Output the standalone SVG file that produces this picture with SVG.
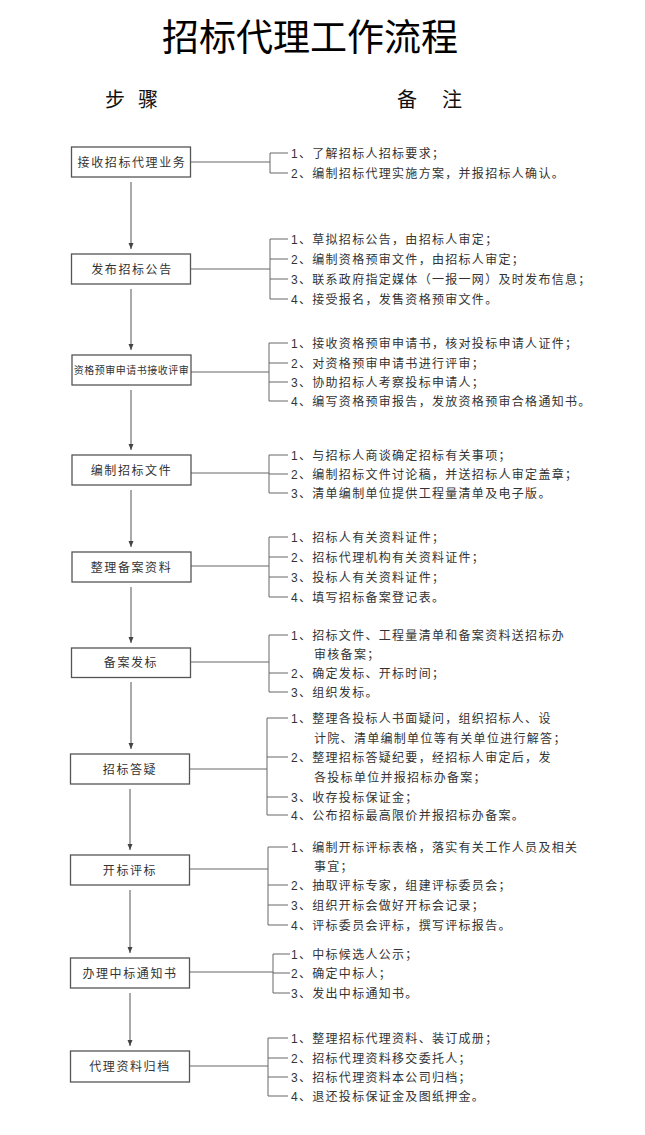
<svg xmlns="http://www.w3.org/2000/svg" width="645" height="1135" viewBox="0 0 645 1135">
<defs>
<style>
.box{fill:#fff;stroke:#555;stroke-width:1.3}
.lbl{font-family:"Liberation Sans","Noto Sans CJK SC",sans-serif;font-size:12px;letter-spacing:1.6px;fill:#333;text-anchor:middle}
.note{font-family:"Liberation Sans","Noto Sans CJK SC",sans-serif;font-size:12px;letter-spacing:1.3px;fill:#333}
.ln{stroke:#666;stroke-width:1;fill:none}
.arr{stroke:#555;stroke-width:1;fill:none;marker-end:url(#ah)}
.hd{font-family:"Noto Sans CJK SC",sans-serif;font-size:20px;fill:#111}
</style>
<marker id="ah" viewBox="0 0 6 6" refX="6" refY="3" markerWidth="6" markerHeight="6" markerUnits="userSpaceOnUse" orient="auto">
<path d="M0,0.5 L6,3 L0,5.5 z" fill="#444"/>
</marker>
</defs>
<rect width="645" height="1135" fill="#fff"/>
<g id="title">
<text x="310" y="51" font-family="Noto Sans CJK SC,sans-serif" font-size="37" text-anchor="middle" fill="#000">招标代理工作流程</text>
<text class="hd" x="105 138" y="107">步骤</text>
<text class="hd" x="397 442" y="107">备注</text>
</g>
<g id="connectors">
<line class="arr" x1="131" y1="182" x2="131" y2="249"/>
<line class="arr" x1="131" y1="289" x2="131" y2="350"/>
<line class="arr" x1="131" y1="390" x2="131" y2="450"/>
<line class="arr" x1="131" y1="490" x2="131" y2="547"/>
<line class="arr" x1="131" y1="587" x2="131" y2="643"/>
<line class="arr" x1="131" y1="682" x2="131" y2="749"/>
<line class="arr" x1="130" y1="789" x2="130" y2="850"/>
<line class="arr" x1="130" y1="890" x2="130" y2="953"/>
<line class="arr" x1="130" y1="993" x2="130" y2="1046"/>
<path class="ln" d="M190.5,162 H270 M270,153 V173 M270,153 H288 M270,173 H288"/>
<path class="ln" d="M190.5,269 H270 M270,239 V299 M270,239 H288 M270,259 H288 M270,279 H288 M270,299 H288"/>
<path class="ln" d="M190.5,372 H269 M269,343 V401 M269,343 H288 M269,363 H288 M269,382 H288 M269,401 H288"/>
<path class="ln" d="M190.5,473 H269 M269,455 V493 M269,455 H288 M269,474 H288 M269,493 H288"/>
<path class="ln" d="M190.5,566 H269 M269,537 V597 M269,537 H288 M269,557 H288 M269,577 H288 M269,597 H288"/>
<path class="ln" d="M190.5,662 H269 M269,635 V692 M269,635 H288 M269,673 H288 M269,692 H288"/>
<path class="ln" d="M190,769 H267 M267,718 V815 M267,718 H288 M267,757 H288 M267,797 H288 M267,815 H288"/>
<path class="ln" d="M190,869 H268 M268,847 V925 M268,847 H288 M268,885 H288 M268,905 H288 M268,925 H288"/>
<path class="ln" d="M190,972 H273 M273,954 V993 M273,954 H290 M273,973 H290 M273,993 H290"/>
<path class="ln" d="M190,1066 H268 M268,1038 V1096 M268,1038 H288 M268,1058 H288 M268,1077 H288 M268,1096 H288"/>
</g>
<g id="n1">
<rect class="box" x="71.5" y="147" width="119" height="30"/>
<text class="lbl" x="132" y="166.5">接收招标代理业务</text>
<text class="note" x="291" y="157.5">1、了解招标人招标要求；</text>
<text class="note" x="291" y="177.5">2、编制招标代理实施方案，并报招标人确认。</text>
</g>
<g id="n2">
<rect class="box" x="71.5" y="254" width="119" height="30"/>
<text class="lbl" x="132" y="273.5">发布招标公告</text>
<text class="note" x="291" y="243.5">1、草拟招标公告，由招标人审定；</text>
<text class="note" x="291" y="263.5">2、编制资格预审文件，由招标人审定；</text>
<text class="note" x="291" y="283.5">3、联系政府指定媒体（一报一网）及时发布信息；</text>
<text class="note" x="291" y="303.5">4、接受报名，发售资格预审文件。</text>
</g>
<g id="n3">
<rect class="box" x="72" y="355" width="119" height="30"/>
<text class="lbl" x="131.5" y="373.8" style="font-size:10px;letter-spacing:0.5px">资格预审申请书接收评审</text>
<text class="note" x="291" y="347.5">1、接收资格预审申请书，核对投标申请人证件；</text>
<text class="note" x="291" y="367.5">2、对资格预审申请书进行评审；</text>
<text class="note" x="291" y="386.5">3、协助招标人考察投标申请人；</text>
<text class="note" x="291" y="405.5">4、编写资格预审报告，发放资格预审合格通知书。</text>
</g>
<g id="n4">
<rect class="box" x="72" y="455" width="119" height="30"/>
<text class="lbl" x="131.5" y="474.5">编制招标文件</text>
<text class="note" x="291" y="459.5">1、与招标人商谈确定招标有关事项；</text>
<text class="note" x="291" y="478.5">2、编制招标文件讨论稿，并送招标人审定盖章；</text>
<text class="note" x="291" y="497.5">3、清单编制单位提供工程量清单及电子版。</text>
</g>
<g id="n5">
<rect class="box" x="72" y="552" width="119" height="30"/>
<text class="lbl" x="131.5" y="571.5">整理备案资料</text>
<text class="note" x="291" y="541.5">1、招标人有关资料证件；</text>
<text class="note" x="291" y="561.5">2、招标代理机构有关资料证件；</text>
<text class="note" x="291" y="581.5">3、投标人有关资料证件；</text>
<text class="note" x="291" y="601.5">4、填写招标备案登记表。</text>
</g>
<g id="n6">
<rect class="box" x="71.5" y="648" width="119" height="29.5"/>
<text class="lbl" x="131" y="667">备案发标</text>
<text class="note" x="291" y="639.5">1、招标文件、工程量清单和备案资料送招标办</text>
<text class="note" x="314" y="658.5">审核备案；</text>
<text class="note" x="291" y="677.5">2、确定发标、开标时间；</text>
<text class="note" x="291" y="696.5">3、组织发标。</text>
</g>
<g id="n7">
<rect class="box" x="70.5" y="754" width="119" height="30"/>
<text class="lbl" x="130" y="773.5">招标答疑</text>
<text class="note" x="291" y="722.5">1、整理各投标人书面疑问，组织招标人、设</text>
<text class="note" x="314" y="742.5">计院、清单编制单位等有关单位进行解答；</text>
<text class="note" x="291" y="761.5">2、整理招标答疑纪要，经招标人审定后，发</text>
<text class="note" x="314" y="781.5">各投标单位并报招标办备案；</text>
<text class="note" x="291" y="801.5">3、收存投标保证金；</text>
<text class="note" x="291" y="819.5">4、公布招标最高限价并报招标办备案。</text>
</g>
<g id="n8">
<rect class="box" x="70.5" y="855" width="119" height="30"/>
<text class="lbl" x="130" y="874.5">开标评标</text>
<text class="note" x="291" y="851.5">1、编制开标评标表格，落实有关工作人员及相关</text>
<text class="note" x="314" y="870.5">事宜；</text>
<text class="note" x="291" y="889.5">2、抽取评标专家，组建评标委员会；</text>
<text class="note" x="291" y="909.5">3、组织开标会做好开标会记录；</text>
<text class="note" x="291" y="929.5">4、评标委员会评标，撰写评标报告。</text>
</g>
<g id="n9">
<rect class="box" x="70.5" y="958" width="119" height="30"/>
<text class="lbl" x="130" y="977.5">办理中标通知书</text>
<text class="note" x="291" y="958.5">1、中标候选人公示；</text>
<text class="note" x="291" y="977.5">2、确定中标人；</text>
<text class="note" x="291" y="997.5">3、发出中标通知书。</text>
</g>
<g id="n10">
<rect class="box" x="70.5" y="1051" width="119" height="31"/>
<text class="lbl" x="130" y="1071">代理资料归档</text>
<text class="note" x="291" y="1042.5">1、整理招标代理资料、装订成册；</text>
<text class="note" x="291" y="1062.5">2、招标代理资料移交委托人；</text>
<text class="note" x="291" y="1081.5">3、招标代理资料本公司归档；</text>
<text class="note" x="291" y="1100.5">4、退还投标保证金及图纸押金。</text>
</g>
</svg>
